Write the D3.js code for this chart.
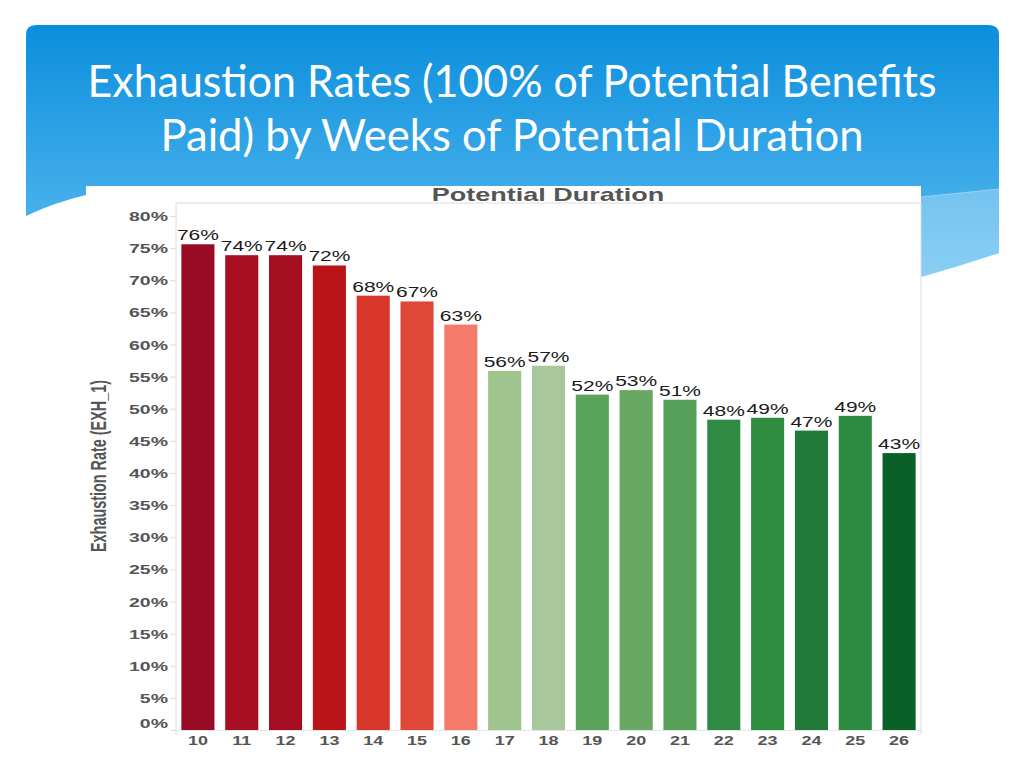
<!DOCTYPE html>
<html>
<head>
<meta charset="utf-8">
<script src="https://cdn.jsdelivr.net/npm/d3@7"></script>
<style>
  html, body { margin: 0; padding: 0; background: #fff; }
  svg { display: block; }
</style>
</head>
<body>
<svg id="chart" width="1024" height="768"></svg>
<script>
// ---- data ----
const titleLines = ["Exhaustion Rates (100% of Potential Benefits", "Paid) by Weeks of Potential Duration"];
const chartTitle = "Potential Duration";
const yAxisTitle = "Exhaustion Rate (EXH_1)";
const categories = ["10","11","12","13","14","15","16","17","18","19","20","21","22","23","24","25","26"];
const values = [75.6, 73.9, 73.9, 72.3, 67.6, 66.7, 63.1, 55.9, 56.7, 52.2, 52.9, 51.4, 48.3, 48.6, 46.6, 48.9, 43.1];
const barColors = ["#990a24","#a90f22","#a50d20","#bb1418","#d8352b","#df4838","#f47a6a",
                   "#a0c48e","#a9c79d","#59a35b","#68a862","#56a05a","#2f8b43","#2f8d40","#207a3a","#2c8b40","#0a6127"];
const yTicks = [0,5,10,15,20,25,30,35,40,45,50,55,60,65,70,75,80];

const svg = d3.select("#chart");
const defs = svg.append("defs");
const grad = defs.append("linearGradient").attr("id","hdr").attr("x1",0).attr("y1",0).attr("x2",0).attr("y2",1);
grad.append("stop").attr("offset","0%").attr("stop-color","#0b8edc");
grad.append("stop").attr("offset","100%").attr("stop-color","#5cbcf1");

// ---- header shape ----
const r = 10;
const hdrPath = `M26,${25+r} Q26,25 ${26+r},25 L${999-r},25 Q999,25 999,${25+r}
  L999,253 Q960,266 918,278 L900,194 L90,194 Q55,202 26,216 Z`;
svg.append("path").attr("d", hdrPath).attr("fill","url(#hdr)");
// lighter band on right
svg.append("path")
  .attr("d","M910,198 L999,189 L999,253 Q960,266 918,278 Z")
  .attr("fill","#ffffff").attr("opacity",0.28);
svg.append("path").attr("d","M910,198 L999,189").attr("stroke","#ffffff").attr("stroke-opacity",0.35).attr("fill","none");

// title
const tl = svg.append("g").attr("font-family","Lato, 'Open Sans', sans-serif").attr("font-weight",400)
  .attr("fill","#ffffff").attr("font-size",45);
tl.append("text").attr("x",512).attr("y",97).attr("text-anchor","middle")
  .attr("textLength",849).attr("lengthAdjust","spacingAndGlyphs").text(titleLines[0]);
tl.append("text").attr("x",512).attr("y",151).attr("text-anchor","middle")
  .attr("textLength",703).attr("lengthAdjust","spacingAndGlyphs").text(titleLines[1]);

// ---- chart panel ----
svg.append("rect").attr("x",86).attr("y",186).attr("width",835).attr("height",582).attr("fill","#ffffff");

const plot = {left:176, right:921, top:203, bottom:730};
const x = d3.scaleBand().domain(categories).range([plot.left, plot.right]).paddingInner(0.245).paddingOuter(0.1225);
const y = d3.scaleLinear().domain([0,80]).range([730,216]);

const font = "'Liberation Sans', Arial, sans-serif";
const sx = 1.5; // horizontal stretch of chart text

// plot frame
svg.append("path")
  .attr("d",`M${plot.left},${plot.bottom+5} L${plot.left},${plot.top} L${plot.right},${plot.top} L${plot.right},${plot.bottom+5}`)
  .attr("fill","none").attr("stroke","#dcdcdc").attr("stroke-width",1);
svg.append("line").attr("x1",plot.left).attr("x2",plot.right).attr("y1",plot.bottom+0.5).attr("y2",plot.bottom+0.5)
  .attr("stroke","#e6e6e6");

// chart title
svg.append("text").attr("transform",`translate(548,201) scale(${sx},1)`)
  .attr("text-anchor","middle").attr("font-family",font).attr("font-weight","bold")
  .attr("font-size",18).attr("fill","#555555").text(chartTitle);

// y axis ticks + labels
const yg = svg.append("g");
yg.selectAll("line").data(yTicks).join("line")
  .attr("x1",170).attr("x2",plot.left).attr("y1",d=>y(d)+0.5).attr("y2",d=>y(d)+0.5)
  .attr("stroke","#dddddd");
yg.selectAll("text").data(yTicks).join("text")
  .attr("transform",d=>`translate(168,${y(d) + (d===0 ? -7 : 0) + 5}) scale(${sx},1)`)
  .attr("text-anchor","end").attr("font-family",font).attr("font-weight","bold")
  .attr("font-size",13).attr("fill","#555555").text(d=>d+"%");

// y axis title
svg.append("text").attr("transform",`translate(106,466) rotate(-90) scale(1,${sx})`)
  .attr("text-anchor","middle").attr("font-family",font).attr("font-weight","bold")
  .attr("font-size",15).attr("fill","#555555")
  .attr("textLength",172).attr("lengthAdjust","spacingAndGlyphs").text(yAxisTitle);

// bars
svg.append("g").selectAll("rect").data(values).join("rect")
  .attr("x",(d,i)=>x(categories[i])).attr("width",x.bandwidth())
  .attr("y",d=>y(d)).attr("height",d=>y(0)-y(d))
  .attr("fill",(d,i)=>barColors[i]);

// value labels
svg.append("g").selectAll("text").data(values).join("text")
  .attr("transform",(d,i)=>`translate(${x(categories[i])+x.bandwidth()/2},${y(d)-4}) scale(${sx},1)`)
  .attr("text-anchor","middle").attr("font-family",font).attr("font-size",14).attr("fill","#1a1a1a")
  .text(d=>Math.round(d)+"%");

// x axis labels
svg.append("g").selectAll("text").data(categories).join("text")
  .attr("transform",d=>`translate(${x(d)+x.bandwidth()/2},745) scale(${sx},1)`)
  .attr("text-anchor","middle").attr("font-family",font).attr("font-weight","bold")
  .attr("font-size",12).attr("fill","#555555").text(d=>d);
</script>
</body>
</html>
